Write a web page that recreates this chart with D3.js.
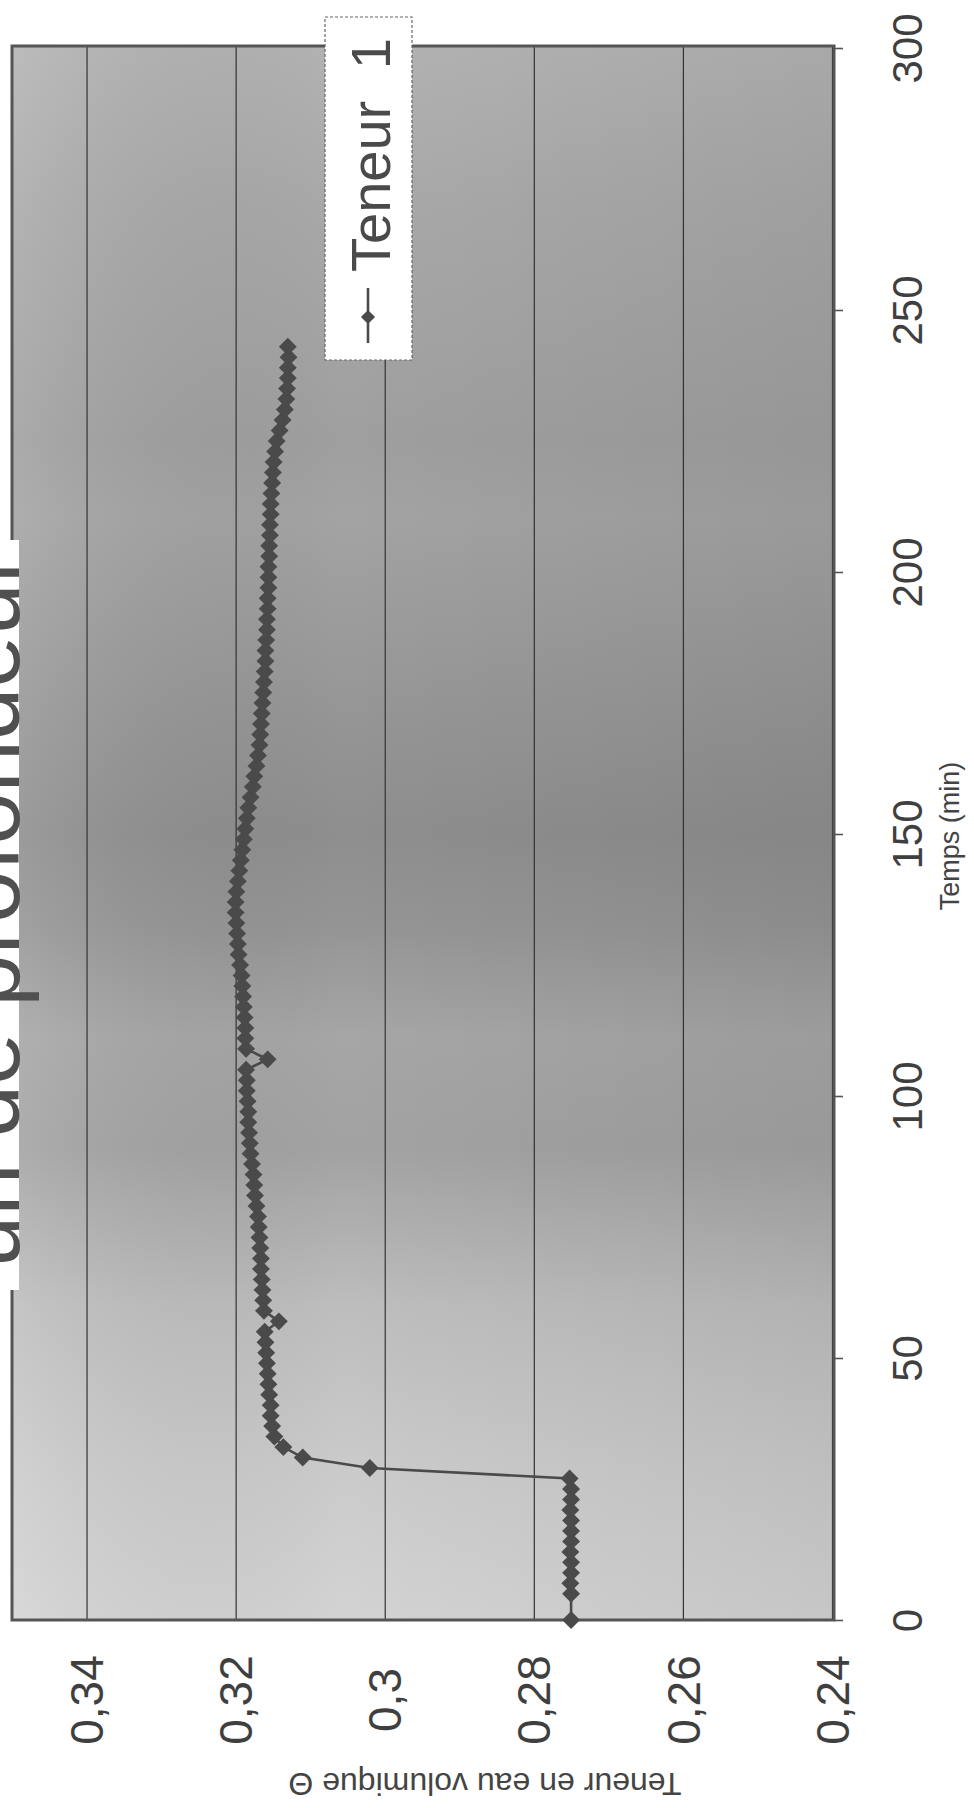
<!DOCTYPE html>
<html>
<head>
<meta charset="utf-8">
<script src="https://cdn.jsdelivr.net/npm/d3@7"></script>
<style>
  html, body { margin: 0; padding: 0; background: #fff; }
  svg { display: block; font-family: "Liberation Sans", Arial, sans-serif; }
  .grid line { stroke: #333; stroke-width: 1.2; }
  .axis path { display: none; }
  .axis line { stroke: #555; stroke-width: 1.6; }
  .axis text { fill: #3f3f3f; }
  .series-line { fill: none; stroke: #4a4a4a; stroke-width: 2.6; }
  .marker { fill: #4a4a4a; }
</style>
</head>
<body>
<svg id="chart" width="974" height="1808"></svg>
<script>
// temps (min) et teneur en eau
const times = [
    0, 5, 7, 9, 11, 13, 15, 17, 19, 21,
    23, 25, 27, 29, 31, 33, 35, 37, 39, 41,
    43, 45, 47, 49, 51, 53, 55, 57, 59, 61,
    63, 65, 67, 69, 71, 73, 75, 77, 79, 81,
    83, 85, 87, 89, 91, 93, 95, 97, 99, 101,
    103, 105, 107, 109, 111, 113, 115, 117, 119, 121,
    123, 125, 127, 129, 131, 133, 135, 137, 139, 141,
    143, 145, 147, 149, 151, 153, 155, 157, 159, 161,
    163, 165, 167, 169, 171, 173, 175, 177, 179, 181,
    183, 185, 187, 189, 191, 193, 195, 197, 199, 201,
    203, 205, 207, 209, 211, 213, 215, 217, 219, 221,
    223, 225, 227, 229, 231, 233, 235, 237, 239, 241, 243
];
const teneur = [
    0.275, 0.275, 0.2751, 0.275, 0.275, 0.2751, 0.275, 0.275, 0.275, 0.2751,
    0.275, 0.275, 0.2752, 0.302, 0.311, 0.3136, 0.3148, 0.3151, 0.3153, 0.3153,
    0.3155, 0.3156, 0.3157, 0.3158, 0.3159, 0.316, 0.3161, 0.3142, 0.3162, 0.3163,
    0.3164, 0.3165, 0.3166, 0.3166, 0.3167, 0.3168, 0.3169, 0.317, 0.3172, 0.3174,
    0.3175, 0.3176, 0.3178, 0.318, 0.3181, 0.3182, 0.3183, 0.3183, 0.3184, 0.3185,
    0.3185, 0.3186, 0.3157, 0.3186, 0.3187, 0.3187, 0.3188, 0.3189, 0.319, 0.3191,
    0.3192, 0.3194, 0.3196, 0.3197, 0.3198, 0.3199, 0.32, 0.32, 0.3199, 0.3197,
    0.3195, 0.3193, 0.3191, 0.3189, 0.3187, 0.3185, 0.3183, 0.318, 0.3177, 0.3175,
    0.3172, 0.317, 0.3168, 0.3167, 0.3166, 0.3165, 0.3164, 0.3163, 0.3162, 0.3161,
    0.316, 0.316, 0.3159, 0.3158, 0.3158, 0.3157, 0.3157, 0.3156, 0.3156, 0.3156,
    0.3155, 0.3155, 0.3154, 0.3154, 0.3153, 0.3153, 0.3152, 0.3151, 0.315, 0.3149,
    0.3147, 0.3145, 0.3141, 0.3137, 0.3134, 0.3132, 0.3131, 0.313, 0.313, 0.3129, 0.313
];
const timeTicks = [0, 50, 100, 150, 200, 250, 300];
const teneurTicks = [0.24, 0.26, 0.28, 0.3, 0.32, 0.34];
const titleText = 'un de profondeur';
const seriesName = 'Teneur 1';
const timeLabel = 'Temps (min)';
const teneurLabel = 'Teneur en eau volumique Θ';

// the scanned chart is turned a quarter: time runs upwards, teneur runs right to left
const frame = {left: 12, right: 834, top: 46, bottom: 1620};

const svg = d3.select('#chart');

const yTime = d3.scaleLinear()
    .domain([0, 300])
    .range([frame.bottom, frame.top + 2]);

const xVal = d3.scaleLinear()
    .domain([0.24, 0.35])
    .range([frame.right - 2, frame.left]);

const defs = svg.append('defs');

const shade = defs.append('linearGradient')
    .attr('id', 'shade')
    .attr('x1', 0).attr('y1', 0).attr('x2', 0).attr('y2', 1);
[[0, '#b3b3b3'], [0.1, '#a9a9a9'], [0.25, '#9f9f9f'], [0.3, '#a3a3a3'],
 [0.42, '#969696'], [0.5, '#8e8e8e'], [0.56, '#959595'], [0.63, '#a6a6a6'],
 [0.7, '#a2a2a2'], [0.8, '#bdbdbd'], [0.9, '#cacaca'], [1, '#d3d3d3']]
    .forEach(s => shade.append('stop').attr('offset', s[0]).attr('stop-color', s[1]));

const side = defs.append('linearGradient')
    .attr('id', 'side')
    .attr('x1', 0).attr('y1', 0).attr('x2', 1).attr('y2', 0);
side.append('stop').attr('offset', 0).attr('stop-color', '#fff').attr('stop-opacity', 0.12);
side.append('stop').attr('offset', 0.4).attr('stop-color', '#000').attr('stop-opacity', 0);
side.append('stop').attr('offset', 1).attr('stop-color', '#000').attr('stop-opacity', 0.06);

// plot area
svg.append('rect')
    .attr('x', frame.left).attr('y', frame.top)
    .attr('width', frame.right - frame.left)
    .attr('height', frame.bottom - frame.top)
    .attr('fill', 'url(#shade)');
svg.append('rect')
    .attr('x', frame.left).attr('y', frame.top)
    .attr('width', frame.right - frame.left)
    .attr('height', frame.bottom - frame.top)
    .attr('fill', 'url(#side)');

// vertical gridlines for the teneur values
svg.append('g')
    .attr('class', 'grid')
    .attr('transform', 'translate(0,' + frame.bottom + ')')
    .call(d3.axisBottom(xVal)
        .tickValues(teneurTicks)
        .tickSize(-(frame.bottom - frame.top))
        .tickFormat(''))
    .call(g => g.select('.domain').remove());

// frame
svg.append('rect')
    .attr('x', frame.left).attr('y', frame.top)
    .attr('width', frame.right - frame.left)
    .attr('height', frame.bottom - frame.top)
    .attr('fill', 'none')
    .attr('stroke', '#555')
    .attr('stroke-width', 3);

// time axis on the right
const timeAxis = svg.append('g')
    .attr('class', 'axis axis-time')
    .attr('transform', 'translate(' + frame.right + ',0)')
    .call(d3.axisRight(yTime).tickValues(timeTicks).tickSize(9).tickFormat(d3.format('d')))
    .attr('font-size', 42)
    .attr('font-family', null);

timeAxis.selectAll('text')
    .attr('x', 0)
    .attr('dy', '0.35em')
    .attr('text-anchor', 'middle')
    .attr('transform', 'translate(' + (907 - frame.right) + ',0) rotate(-90)');

// teneur axis at the bottom
const fmtComma = d => String(+d.toFixed(2)).replace('.', ',');

const valAxis = svg.append('g')
    .attr('class', 'axis axis-teneur')
    .attr('transform', 'translate(0,' + frame.bottom + ')')
    .call(d3.axisBottom(xVal).tickValues(teneurTicks).tickSize(0).tickFormat(fmtComma))
    .attr('font-size', 46)
    .attr('font-family', null);

valAxis.selectAll('text')
    .attr('y', 0)
    .attr('dy', '0.35em')
    .attr('text-anchor', 'middle')
    .attr('transform', 'translate(0,' + (1700 - frame.bottom) + ') rotate(-90)');

// axis titles
svg.append('text')
    .attr('transform', 'translate(950,836) rotate(-90)')
    .attr('text-anchor', 'middle')
    .attr('dy', '0.35em')
    .attr('font-size', 27)
    .attr('fill', '#444')
    .text(timeLabel);

svg.append('text')
    .attr('transform', 'translate(485,1784) rotate(180)')
    .attr('text-anchor', 'middle')
    .attr('dy', '0.35em')
    .attr('font-size', 32)
    .attr('fill', '#444')
    .text(teneurLabel);

// series
const points = times.map((t, i) => ({t: t, v: teneur[i]}));

const line = d3.line()
    .x(d => xVal(d.v))
    .y(d => yTime(d.t));

svg.append('path')
    .datum(points)
    .attr('class', 'series-line')
    .attr('d', line);

const diamond = d3.symbol().type(d3.symbolSquare).size(160);

svg.append('g')
    .selectAll('path')
    .data(points)
    .join('path')
    .attr('class', 'marker')
    .attr('d', diamond)
    .attr('transform', d => 'translate(' + xVal(d.v) + ',' + yTime(d.t) + ') rotate(45)');

// legend
const legend = svg.append('g');
legend.append('rect')
    .attr('x', 325).attr('y', 17)
    .attr('width', 87).attr('height', 343)
    .attr('fill', '#fff')
    .attr('stroke', '#666')
    .attr('stroke-width', 1.2)
    .attr('stroke-dasharray', '3,2');
legend.append('line')
    .attr('x1', 368).attr('x2', 368)
    .attr('y1', 288).attr('y2', 343)
    .attr('stroke', '#4a4a4a')
    .attr('stroke-width', 2.6);
legend.append('path')
    .attr('class', 'marker')
    .attr('d', d3.symbol().type(d3.symbolSquare).size(100))
    .attr('transform', 'translate(368,317) rotate(45)');
legend.append('text')
    .attr('transform', 'translate(390,272) rotate(-90)')
    .attr('font-size', 56)
    .attr('word-spacing', 16)
    .attr('fill', '#4a4a4a')
    .text(seriesName);

// chart title, mostly cut off by the left edge of the scan
svg.append('rect')
    .attr('x', 0).attr('y', 540)
    .attr('width', 19).attr('height', 750)
    .attr('fill', '#fff');
svg.append('text')
    .attr('transform', 'translate(19,1268) rotate(-90)')
    .attr('font-size', 94)
    .attr('fill', '#505050')
    .text(titleText);
</script>
</body>
</html>
